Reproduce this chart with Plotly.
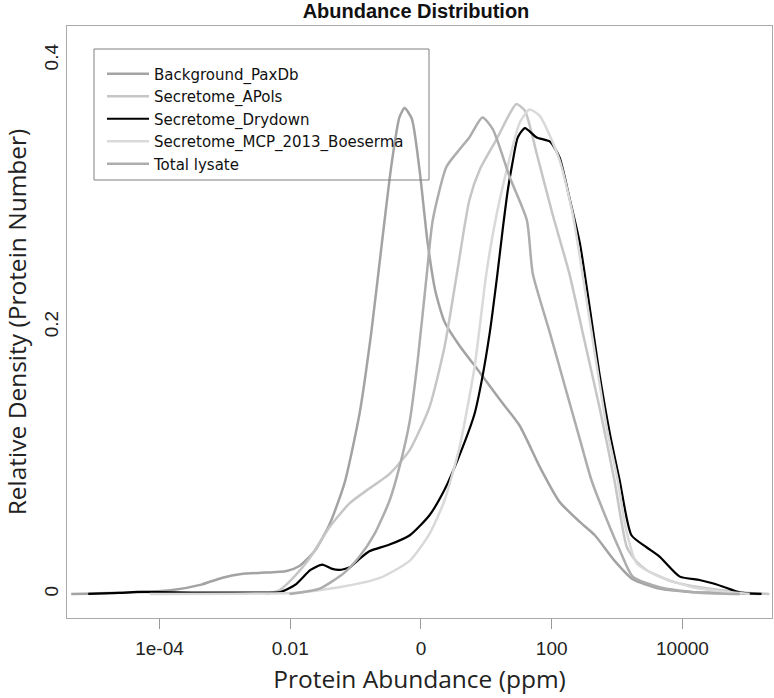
import plotly.graph_objects as go

# ---- data (log10 of abundance in ppm, relative density) ----
paxdb_log10 = [-5.35, -4.26, -3.80, -3.36, -3.05, -2.75, -2.38, -2.07, -1.86, -1.63, -1.40, -1.17,
               -0.94, -0.76, -0.60, -0.45, -0.33, -0.25, -0.14, -0.02, 0.10, 0.22, 0.36, 0.59,
               0.90, 1.20, 1.51, 1.82, 2.12, 2.43, 2.66, 2.96, 3.24, 3.65, 4.11, 4.57, 5.18]
paxdb_dens = [0.0, 0.0015, 0.003, 0.007, 0.012, 0.015, 0.016, 0.017, 0.021, 0.032, 0.052, 0.083,
              0.135, 0.196, 0.262, 0.322, 0.357, 0.364, 0.356, 0.317, 0.264, 0.227, 0.204, 0.186,
              0.166, 0.146, 0.126, 0.095, 0.069, 0.054, 0.044, 0.025, 0.011, 0.004, 0.0015, 0.001, 0.0]

apols_log10 = [-2.38, -2.16, -1.92, -1.70, -1.40, -1.09, -0.79, -0.48, -0.17, 0.13, 0.36, 0.55,
               0.74, 0.90, 1.16, 1.36, 1.46, 1.59, 1.77, 2.01, 2.27, 2.50, 2.73, 2.96, 3.15,
               3.30, 3.45, 3.80, 4.26, 4.98, 5.33]
apols_dens = [0.0, 0.003, 0.014, 0.027, 0.050, 0.068, 0.079, 0.090, 0.108, 0.140, 0.185, 0.240,
              0.295, 0.318, 0.341, 0.360, 0.367, 0.362, 0.330, 0.285, 0.240, 0.190, 0.140, 0.085, 0.035,
              0.024, 0.018, 0.010, 0.005, 0.001, 0.0]

drydown_log10 = [-5.09, -4.61, -4.34, -3.39, -2.47, -2.15, -1.92, -1.69, -1.51, -1.37, -1.25, -1.09,
                 -0.97, -0.79, -0.48, -0.17, 0.13, 0.36, 0.59, 0.82, 0.93, 1.05, 1.17, 1.25, 1.33,
                 1.40, 1.48, 1.59, 1.77, 1.97, 2.12, 2.27, 2.43, 2.58, 2.73, 2.89, 3.04, 3.22,
                 3.45, 3.65, 3.96, 4.26, 4.46, 4.68, 4.88, 5.21]
drydown_dens = [0.0, 0.0008, 0.0015, 0.001, 0.001, 0.0015, 0.007, 0.018, 0.022, 0.019, 0.018, 0.020,
                0.025, 0.032, 0.037, 0.044, 0.059, 0.078, 0.104, 0.135, 0.160, 0.195, 0.240, 0.273, 0.303,
                0.323, 0.342, 0.349, 0.342, 0.339, 0.327, 0.297, 0.263, 0.215, 0.165, 0.120, 0.085, 0.044,
                0.035, 0.028, 0.013, 0.0105, 0.008, 0.0045, 0.001, 0.0]

mcp_log10 = [-4.15, -1.92, -1.25, -0.63, -0.17, 0.13, 0.36, 0.59, 0.82, 1.00, 1.16, 1.36, 1.51,
             1.66, 1.82, 2.12, 2.32, 2.47, 2.66, 2.84, 3.01, 3.13, 3.30, 3.65, 4.16, 4.68, 5.03]
mcp_dens = [0.0, 0.001, 0.005, 0.012, 0.025, 0.045, 0.070, 0.110, 0.170, 0.240, 0.285, 0.327, 0.353,
            0.363, 0.358, 0.325, 0.285, 0.240, 0.180, 0.125, 0.085, 0.050, 0.023, 0.013, 0.005, 0.0015, 0.0]

lysate_log10 = [-2.01, -1.55, -1.17, -0.94, -0.71, -0.48, -0.33, -0.17, -0.05, 0.09, 0.18, 0.39,
                0.59, 0.74, 0.94, 1.10, 1.36, 1.62, 1.71, 1.97, 2.20, 2.43, 2.61, 2.89, 3.04,
                3.24, 3.65, 4.26, 4.88]
lysate_dens = [0.0, 0.004, 0.016, 0.028, 0.045, 0.070, 0.095, 0.130, 0.175, 0.240, 0.280, 0.320,
               0.333, 0.342, 0.357, 0.348, 0.312, 0.280, 0.240, 0.196, 0.156, 0.116, 0.085, 0.050, 0.033,
               0.013, 0.005, 0.001, 0.0]

series_names = ["Background_PaxDb", "Secretome_APols", "Secretome_Drydown",
                "Secretome_MCP_2013_Boeserma", "Total lysate"]
series_colors = ["#a3a3a3", "#c6c6c6", "#000000", "#d9d9d9", "#adadad"]
series_x = [paxdb_log10, apols_log10, drydown_log10, mcp_log10, lysate_log10]
series_y = [paxdb_dens, apols_dens, drydown_dens, mcp_dens, lysate_dens]

x_tickvals = [1e-4, 1e-2, 1, 100, 1e4]
x_ticktext = ["1e-04", "0.01", "0", "100", "10000"]
y_tickvals = [0, 0.2, 0.4]
y_ticktext = ["0", "0.2", "0.4"]

fig = go.Figure()
for name, color, lx, dy in zip(series_names, series_colors, series_x, series_y):
    fig.add_trace(go.Scatter(
        x=[10 ** v for v in lx], y=dy, mode="lines", name=name,
        line=dict(color=color, width=2.5 if color != "#000000" else 2.2,
                  shape="spline", smoothing=0.6),
    ))

fig.update_layout(
    width=774, height=698,
    margin=dict(l=67, r=2, t=26, b=80, autoexpand=False),
    paper_bgcolor="white", plot_bgcolor="white",
    title=dict(text="<b>Abundance Distribution</b>", x=416 / 774, xref="container",
               y=1 - 11 / 698, yref="container", yanchor="middle", xanchor="center",
               automargin=False,
               font=dict(family="Liberation Sans", size=20, color="#111")),
    xaxis=dict(type="log", range=[-5.415, 5.37], tickvals=x_tickvals, ticktext=x_ticktext,
               ticks="outside", ticklen=10, tickcolor="#999", tickwidth=1,
               ticklabelstandoff=3, automargin=False,
               showline=True, mirror=True, linecolor="#aaaaaa", linewidth=1,
               showgrid=False, zeroline=False,
               tickfont=dict(family="Liberation Sans", size=19, color="#222"),
               title=dict(text="Protein Abundance (ppm)", standoff=13,
                          font=dict(family="Open Sans", size=24.5, color="#222"))),
    yaxis=dict(range=[-0.018, 0.4255], tickvals=y_tickvals, ticktext=y_ticktext,
               ticks="", tickangle=-90, automargin=False,
               showline=True, mirror=True, linecolor="#aaaaaa", linewidth=1,
               showgrid=False, zeroline=False,
               tickfont=dict(family="Liberation Sans", size=19, color="#222"),
               title=dict(text="Relative Density (Protein Number)", standoff=9,
                          font=dict(family="Open Sans", size=24.5, color="#222"))),
    legend=dict(x=(102 - 67) / 705, y=(618 - 57.5) / 592, xanchor="left", yanchor="top",
                bgcolor="rgba(0,0,0,0)", borderwidth=0, tracegroupgap=0, itemwidth=42,
                font=dict(family="DejaVu Sans", size=15, color="#111")),
    shapes=[dict(type="rect", xref="paper", yref="paper",
                 x0=(94 - 67) / 705, x1=(429 - 67) / 705,
                 y0=(618 - 180) / 592, y1=(618 - 49) / 592,
                 line=dict(color="#808080", width=1), fillcolor="rgba(0,0,0,0)")],
)

fig.write_html("out.html", config={"displayModeBar": False},
               post_script="document.body.style.margin='0';document.body.style.overflow='hidden';")
